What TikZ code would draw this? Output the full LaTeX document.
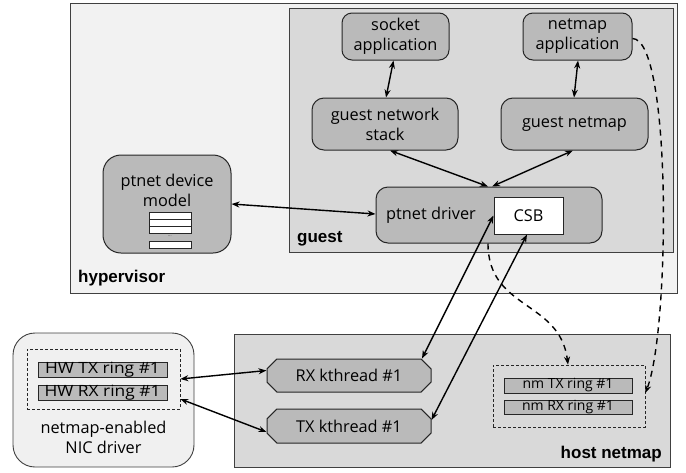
\documentclass[tikz,border=0pt]{standalone}
\usepackage{fontspec}
\setmainfont{Open Sans}
\newfontfamily\lblfamily{Liberation Sans}
\newfontfamily\hwfamily[FakeStretch=1.12]{Open Sans}
\usetikzlibrary{arrows.meta,shapes.misc,calc}
\newcommand\fmain{\fontsize{16.3}{20}\selectfont}
\newcommand\fnm{\fontsize{14}{16}\selectfont}
\newcommand\fhw{\hwfamily\fontsize{15.5}{17}\selectfont}
\newcommand\flbl{\lblfamily\bfseries\fontsize{17}{20}\selectfont}
\begin{document}
\begin{tikzpicture}[x=1pt,y=-1pt,
  container/.style={draw=black!75, line width=0.9pt},
  comp/.style={draw=black!85, fill=black!27, line width=1pt, rounded corners=10pt, align=center, font=\fmain, inner sep=0pt},
  ring/.style={draw=black!85, fill=black!27, line width=0.8pt, inner sep=0pt},
  kth/.style={chamfered rectangle, chamfered rectangle xsep=8pt, draw=black!85, fill=black!27, line width=1pt, font=\fmain, inner sep=0pt},
  dbox/.style={draw=black!85, dash pattern=on 3pt off 2pt, line width=0.7pt, inner sep=0pt},
  arr/.style={{Stealth[length=8pt,width=6pt]}-{Stealth[length=8pt,width=6pt]}, line width=1.4pt},
  darr/.style={-{Stealth[length=8pt,width=6pt]}, dash pattern=on 6pt off 5pt, line width=1.4pt},
  lbl/.style={font=\flbl, inner sep=0pt},
  txt/.style={font=\fmain, align=center, inner sep=0pt}
]
\useasboundingbox (0,0) rectangle (686,472);

% containers
\draw[container, fill=black!5] (70,3) rectangle (677,293);
\draw[container, fill=black!15] (289,8) rectangle (673,252);
\draw[container, fill=black!15] (234,334) rectangle (670,467);
\draw[container, fill=black!6, rounded corners=22pt] (13,333) rectangle (194,467);

\node[lbl, anchor=base west] (lhyp) at (78,282) {hypervisor};
\node[lbl, anchor=base west] (lguest) at (297,242) {guest};
\node[lbl, anchor=base east] (lhost) at (662,458) {host netmap};

% guest components
\node[comp, minimum width=107pt, minimum height=47pt] (sock) at (395.5,36.5) {socket\\application};
\node[comp, minimum width=109pt, minimum height=47pt] (napp) at (577.5,36.5) {netmap\\application};
\node[comp, minimum width=146pt, minimum height=52pt, rounded corners=12pt] (gns) at (385,124) {guest network\\stack};
\node[comp, minimum width=147pt, minimum height=52pt, rounded corners=12pt] (gnm) at (574.5,124) {guest netmap};
\node[comp, minimum width=226pt, minimum height=56pt, rounded corners=12pt] (drv) at (489,215) {};
\node[txt] (drvt) at (431,215) {ptnet driver};
\node[draw=black!85, fill=white, line width=1pt, minimum width=69pt, minimum height=37pt, font=\fmain, inner sep=0pt] (csb) at (528.5,215.5) {CSB};

% device model
\node[comp, minimum width=128pt, minimum height=98pt, rounded corners=18pt] (dev) at (167,204) {};
\node[txt] (devt) at (167,190) {ptnet device\\model};
\draw[fill=white, draw=black!85, line width=0.7pt] (149,212) rectangle (191,219);
\draw[fill=white, draw=black!85, line width=0.7pt] (149,219) rectangle (191,226);
\draw[fill=white, draw=black!85, line width=0.7pt] (149,226) rectangle (191,233);
\draw[fill=white, draw=black!85, line width=0.7pt] (149,241) rectangle (191,248);
\node[font=\fontsize{4}{4}\selectfont, inner sep=0pt] (dots) at (170,236.5) {...};

% NIC driver
\node[dbox, minimum width=153pt, minimum height=60pt] (hwbox) at (103.5,379) {};
\node[ring, minimum width=129pt, minimum height=14pt, font=\fhw] (hwtx) at (102.5,370) {HW TX ring \#1};
\node[ring, minimum width=129pt, minimum height=15pt, font=\fhw] (hwrx) at (102.5,392.5) {HW RX ring \#1};
\node[txt] (nict) at (103.5,437) {netmap-enabled\\NIC driver};

% host netmap
\node[kth, minimum width=164pt, minimum height=33pt] (rxk) at (349,375.5) {RX kthread \#1};
\node[kth, minimum width=164pt, minimum height=34pt] (txk) at (349,426) {TX kthread \#1};
\node[dbox, minimum width=152pt, minimum height=62pt] (nmbox) at (569,396) {};
\node[ring, minimum width=128pt, minimum height=15pt, font=\fnm] (nmtx) at (568,385.5) {nm TX ring \#1};
\node[ring, minimum width=128pt, minimum height=14pt, font=\fnm] (nmrx) at (568,407) {nm RX ring \#1};

% connectors
\draw[arr] ($(sock.south)+(-2,0)$) -- ($(gns.north)+(1,0)$);
\draw[arr] ($(napp.south)+(0.5,0)$) -- ($(gnm.north)+(-0.5,0)$);
\draw[arr] ($(gns.south)+(5,0)$) -- ($(drv.north)+(-1,0)$);
\draw[arr] ($(gnm.south)+(-1.5,0)$) -- ($(drv.north)+(3,0)$);
\draw[arr] (dev.east) -- ($(drv.west)+(0,-1)$);
\draw[arr] (csb.west) -- ($(rxk.north)+(73,0)$);
\draw[arr] ($(csb.south)+(-1.5,0)$) -- ($(txk.east)+(0,-6)$);
\draw[arr] (hwbox.east) -- ($(rxk.west)+(0,-5)$);
\draw[arr] ($(hwbox.east)+(0,20)$) -- ($(txk.west)+(0,6)$);

\draw[darr] ($(drv.south)+(-1,0)$) .. controls (488,310) and (560,300) .. ($(nmbox.north)+(-1,0)$);
\draw[darr] ($(napp.east)+(0,2)$) .. controls (672,39) and (670,330) .. ($(nmbox.east)+(0,-3)$);
\end{tikzpicture}
\end{document}
